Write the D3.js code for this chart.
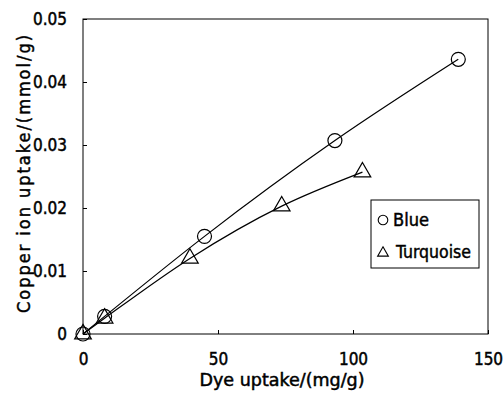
<!DOCTYPE html>
<html><head><meta charset="utf-8">
<script src="https://cdn.jsdelivr.net/npm/d3@7"></script>
<style>body{margin:0;background:#fff}svg{display:block}</style>
</head><body>
<svg id="c" width="504" height="394"></svg>
<script>
const xTicks = [0, 50, 100, 150];
const yTicks = [0, 0.01, 0.02, 0.03, 0.04, 0.05];
const yTickLabels = ["0", "0.01", "0.02", "0.03", "0.04", "0.05"];
const blueX = [0, 8, 45, 93.3, 139];
const blueY = [0, 0.0028, 0.0155, 0.0307, 0.0436];
const turqX = [0, 8, 39.6, 73.6, 103.5];
const turqY = [0, 0.0025, 0.012, 0.0203, 0.0257];
const seriesNames = ["Blue", "Turquoise"];

const svg = d3.select("#c");
const L = 83, R = 488, T = 19, B = 334;
const x = d3.scaleLinear().domain([0, 150]).range([L, R]);
const y = d3.scaleLinear().domain([0, 0.05]).range([B, T]);
const font = "'DejaVu Sans Condensed', 'Liberation Sans Narrow', 'DejaVu Sans', sans-serif";
function style(sel, size) {
  return sel.attr("font-family", font).attr("font-size", size).attr("fill", "#000")
    .attr("stroke", "#000").attr("stroke-width", 0.45);
}

svg.append("rect").attr("x", L).attr("y", T).attr("width", R - L).attr("height", B - T)
  .attr("fill", "none").attr("stroke", "#000").attr("stroke-width", 1);

const xa = svg.append("g").attr("transform", `translate(0,${B})`)
  .call(d3.axisBottom(x).tickValues(xTicks).tickSizeInner(-4).tickSizeOuter(0).tickPadding(19).tickFormat(d3.format("d")));
const ya = svg.append("g").attr("transform", `translate(${L},0)`)
  .call(d3.axisLeft(y).tickValues(yTicks).tickSizeInner(-4).tickSizeOuter(0).tickPadding(16).tickFormat((d, i) => yTickLabels[i]));
[xa, ya].forEach(g => {
  g.select(".domain").remove();
  style(g.selectAll("text"), 17);
  g.selectAll("line").attr("stroke", "#000");
});

style(svg.append("text"), 17.5).attr("x", 282).attr("y", 386).attr("text-anchor", "middle")
  .attr("textLength", 165).attr("lengthAdjust", "spacingAndGlyphs").text("Dye uptake/(mg/g)");
style(svg.append("text"), 18).attr("transform", "translate(30,174) rotate(-90)").attr("text-anchor", "middle")
  .attr("textLength", 278).attr("lengthAdjust", "spacing").text("Copper ion uptake/(mmol/g)");

const line = d3.line().x(d => x(d[0])).y(d => y(d[1])).curve(d3.curveMonotoneX);
const blue = blueX.map((v, i) => [v, blueY[i]]);
const turq = turqX.map((v, i) => [v, turqY[i]]);
svg.append("path").attr("d", line(blue)).attr("fill", "none").attr("stroke", "#000").attr("stroke-width", 1.2);
svg.append("path").attr("d", line(turq)).attr("fill", "none").attr("stroke", "#000").attr("stroke-width", 1.2);

const tri = d3.symbol().type(d3.symbolTriangle).size(120);
svg.selectAll(".t").data(turq).enter().append("path")
  .attr("transform", d => `translate(${x(d[0])},${y(d[1])})`).attr("d", tri)
  .attr("fill", "none").attr("stroke", "#000").attr("stroke-width", 1.2);
svg.selectAll(".b").data(blue).enter().append("circle")
  .attr("cx", d => x(d[0])).attr("cy", d => y(d[1])).attr("r", 7)
  .attr("fill", "none").attr("stroke", "#000").attr("stroke-width", 1.2);

svg.append("rect").attr("x", 371).attr("y", 200).attr("width", 108).attr("height", 68)
  .attr("fill", "#fff").attr("stroke", "#000").attr("stroke-width", 1);
svg.append("circle").attr("cx", 383).attr("cy", 220).attr("r", 4.8).attr("fill", "none").attr("stroke", "#000").attr("stroke-width", 1.1);
svg.append("path").attr("transform", "translate(383,253)").attr("d", d3.symbol().type(d3.symbolTriangle).size(50))
  .attr("fill", "none").attr("stroke", "#000").attr("stroke-width", 1.1);
style(svg.append("text"), 18).attr("x", 393).attr("y", 226)
  .attr("textLength", 36).attr("lengthAdjust", "spacingAndGlyphs").text(seriesNames[0]);
style(svg.append("text"), 18).attr("x", 396).attr("y", 258)
  .attr("textLength", 75).attr("lengthAdjust", "spacingAndGlyphs").text(seriesNames[1]);
</script>
</body></html>
